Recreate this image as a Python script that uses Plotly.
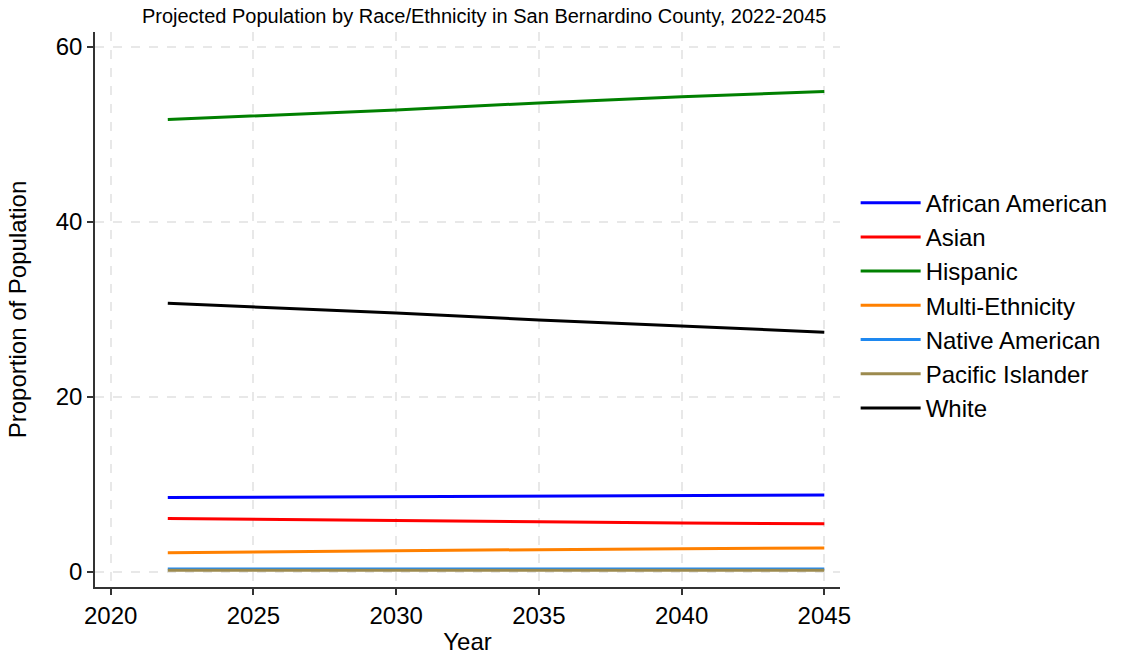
import plotly.graph_objects as go

years = [2022, 2025, 2030, 2035, 2040, 2045]

african_american = [8.5, 8.55, 8.6, 8.65, 8.75, 8.8]
asian = [6.1, 6.0, 5.9, 5.75, 5.6, 5.5]
hispanic = [51.7, 52.1, 52.8, 53.6, 54.3, 54.9]
multi_ethnicity = [2.2, 2.3, 2.4, 2.55, 2.65, 2.75]
native_american = [0.35, 0.35, 0.35, 0.35, 0.35, 0.35]
pacific_islander = [0.2, 0.2, 0.2, 0.2, 0.2, 0.2]
white = [30.7, 30.3, 29.6, 28.8, 28.1, 27.4]

series = [
    ("African American", african_american, "#0000FF"),
    ("Asian", asian, "#FF0000"),
    ("Hispanic", hispanic, "#008000"),
    ("Multi-Ethnicity", multi_ethnicity, "#FF8000"),
    ("Native American", native_american, "#1E88F0"),
    ("Pacific Islander", pacific_islander, "#9C8A4E"),
    ("White", white, "#000000"),
]

fig = go.Figure()
for name, vals, color in series:
    fig.add_trace(go.Scatter(x=years, y=vals, mode="lines", name=name,
                             line=dict(color=color, width=3)))

font_family = "Liberation Sans, Arial, sans-serif"
axis_common = dict(
    showline=True, linecolor="#333333", linewidth=1.5,
    ticks="outside", ticklen=6, tickcolor="#333333", tickwidth=1.5,
    showgrid=True, gridcolor="#E8E8E8", griddash="dash", gridwidth=1.5,
    zeroline=False, tickfont=dict(size=24, color="#000000"),
    title_font=dict(size=24, color="#000000"), automargin=False,
)

fig.update_layout(
    width=1126, height=656,
    paper_bgcolor="white", plot_bgcolor="white",
    font=dict(family=font_family, color="#000000"),
    margin=dict(l=95, r=286, t=32, b=69, autoexpand=False),
    title=dict(text="Projected Population by Race/Ethnicity in San Bernardino County, 2022-2045",
               x=0.43, xanchor="center", y=0.987, yanchor="top",
               font=dict(size=20, color="#000000")),
    xaxis=dict(range=[2019.45, 2045.55], tickvals=[2020, 2025, 2030, 2035, 2040, 2045],
               title=dict(text="Year", standoff=6), **axis_common),
    yaxis=dict(range=[-1.72, 61.7], tickvals=[0, 20, 40, 60],
               title=dict(text="Proportion of Population", standoff=22), **axis_common),
    legend=dict(x=1.021, xanchor="left", y=0.507, yanchor="middle",
                font=dict(size=24), itemwidth=60,
                bgcolor="rgba(0,0,0,0)"),
    showlegend=True,
)

fig.write_html("out.html")
